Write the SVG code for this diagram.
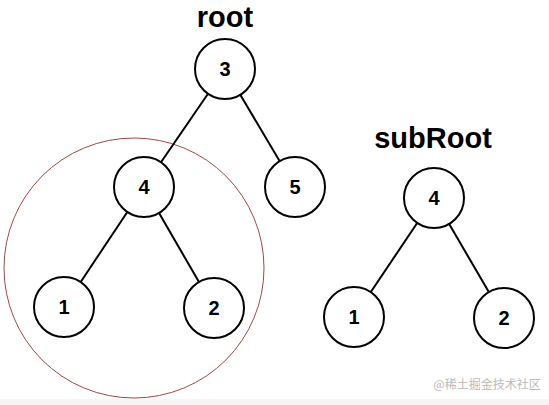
<svg xmlns="http://www.w3.org/2000/svg" width="549" height="405" viewBox="0 0 549 405">
<style>
.n circle{fill:#fff;stroke:#000;stroke-width:2}
.n text{font-family:"Liberation Sans",Arial,sans-serif;font-weight:bold;font-size:20px;text-anchor:middle;fill:#000}
.lbl{font-family:"Liberation Sans",Arial,sans-serif;font-weight:bold;font-size:29px;text-anchor:middle;fill:#000}
.e line{stroke:#000;stroke-width:2}
</style>
<rect width="549" height="405" fill="#fff"/>
<rect x="0" y="399" width="549" height="6" fill="#f4f5f5"/>
<text class="lbl" x="225" y="27">root</text>
<text class="lbl" x="433" y="148">subRoot</text>
<circle id="highlight" cx="134" cy="268" r="130" fill="none" stroke="#a04848" stroke-width="1"/>
<g id="connectors" class="e">
<line x1="225" y1="69" x2="144" y2="187"/>
<line x1="225" y1="69" x2="295" y2="187"/>
<line x1="144" y1="187" x2="64" y2="307"/>
<line x1="144" y1="187" x2="214" y2="308"/>
<line x1="434" y1="198" x2="354" y2="317"/>
<line x1="434" y1="198" x2="504" y2="318"/>
</g>
<g id="n3" class="n"><circle cx="225" cy="69" r="30"/><text x="225" y="76">3</text></g>
<g id="n4" class="n"><circle cx="144" cy="187" r="30"/><text x="144" y="194">4</text></g>
<g id="n5" class="n"><circle cx="295" cy="187" r="30"/><text x="295" y="194">5</text></g>
<g id="n1" class="n"><circle cx="64" cy="307" r="30"/><text x="64" y="314">1</text></g>
<g id="n2" class="n"><circle cx="214" cy="308" r="30"/><text x="214" y="315">2</text></g>
<g id="s4" class="n"><circle cx="434" cy="198" r="30"/><text x="434" y="205">4</text></g>
<g id="s1" class="n"><circle cx="354" cy="317" r="30"/><text x="354" y="324">1</text></g>
<g id="s2" class="n"><circle cx="504" cy="318" r="30"/><text x="504" y="325">2</text></g>
<text x="487" y="389" font-family="'Noto Sans CJK SC',sans-serif" font-size="12" fill="#bbb" text-anchor="middle">@稀土掘金技术社区</text>
</svg>
